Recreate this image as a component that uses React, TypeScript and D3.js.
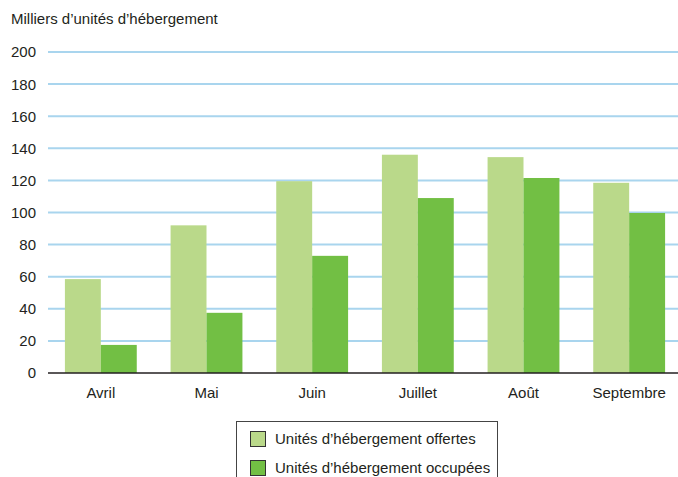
import React from "react";
import * as d3 from "d3";

const months = ["Avril", "Mai", "Juin", "Juillet", "Août", "Septembre"];
const offertes = [58.5, 92, 119.5, 136, 134.5, 118.5];
const occupees = [17.5, 37.5, 73, 109, 121.5, 99.7];
const yTicks = [0, 20, 40, 60, 80, 100, 120, 140, 160, 180, 200];
const seriesNames = ["Unités d’hébergement offertes", "Unités d’hébergement occupées"];
const colors = ["#BAD98A", "#72BF44"];

const W = 678, H = 477;
const font = "Liberation Sans, Arial, sans-serif";

export default function App() {
  const x0 = d3.scaleBand<string>().domain(months).range([48, 682]).paddingInner(0.32).paddingOuter(0.16);
  const x1 = d3.scaleBand<number>().domain([0, 1]).range([0, x0.bandwidth()]);
  const y = d3.scaleLinear().domain([0, 200]).range([373, 52]);
  const series = [offertes, occupees];

  return (
    <svg width={W} height={H} style={{ position: "absolute", left: 0, top: 0, background: "#fff" }} fontFamily={font}>
      <text x={11} y={24} fontSize={15} fill="#231F20">Milliers d’unités d’hébergement</text>
      {yTicks.map((t) => (
        <g key={t}>
          {t > 0 && <line x1={48} x2={W} y1={y(t)} y2={y(t)} stroke="#A9D5EE" strokeWidth={2} />}
          <text x={36} y={y(t)} dy="0.36em" textAnchor="end" fontSize={15} fill="#231F20">{t}</text>
        </g>
      ))}
      {months.map((m, i) => (
        <g key={m} transform={`translate(${x0(m)},0)`}>
          {series.map((s, j) => (
            <rect key={j} x={x1(j)} y={y(s[i])} width={x1.bandwidth()} height={y(0) - y(s[i])} fill={colors[j]} />
          ))}
        </g>
      ))}
      <line x1={48} x2={W} y1={y(0)} y2={y(0)} stroke="#231F20" strokeWidth={1.5} />
      {months.map((m) => (
        <text key={m} x={(x0(m) as number) + x0.bandwidth() / 2} y={398} textAnchor="middle" fontSize={15} fill="#231F20">{m}</text>
      ))}
      <rect x={236.5} y={421.5} width={261} height={70} fill="none" stroke="#444" strokeWidth={1} />
      {seriesNames.map((n, j) => (
        <g key={n}>
          <rect x={250.5} y={431.5 + j * 29} width={15} height={15} fill={colors[j]} stroke="#333" strokeWidth={1} />
          <text x={275} y={439 + j * 29} dy="0.36em" fontSize={15} fill="#231F20">{n}</text>
        </g>
      ))}
    </svg>
  );
}
